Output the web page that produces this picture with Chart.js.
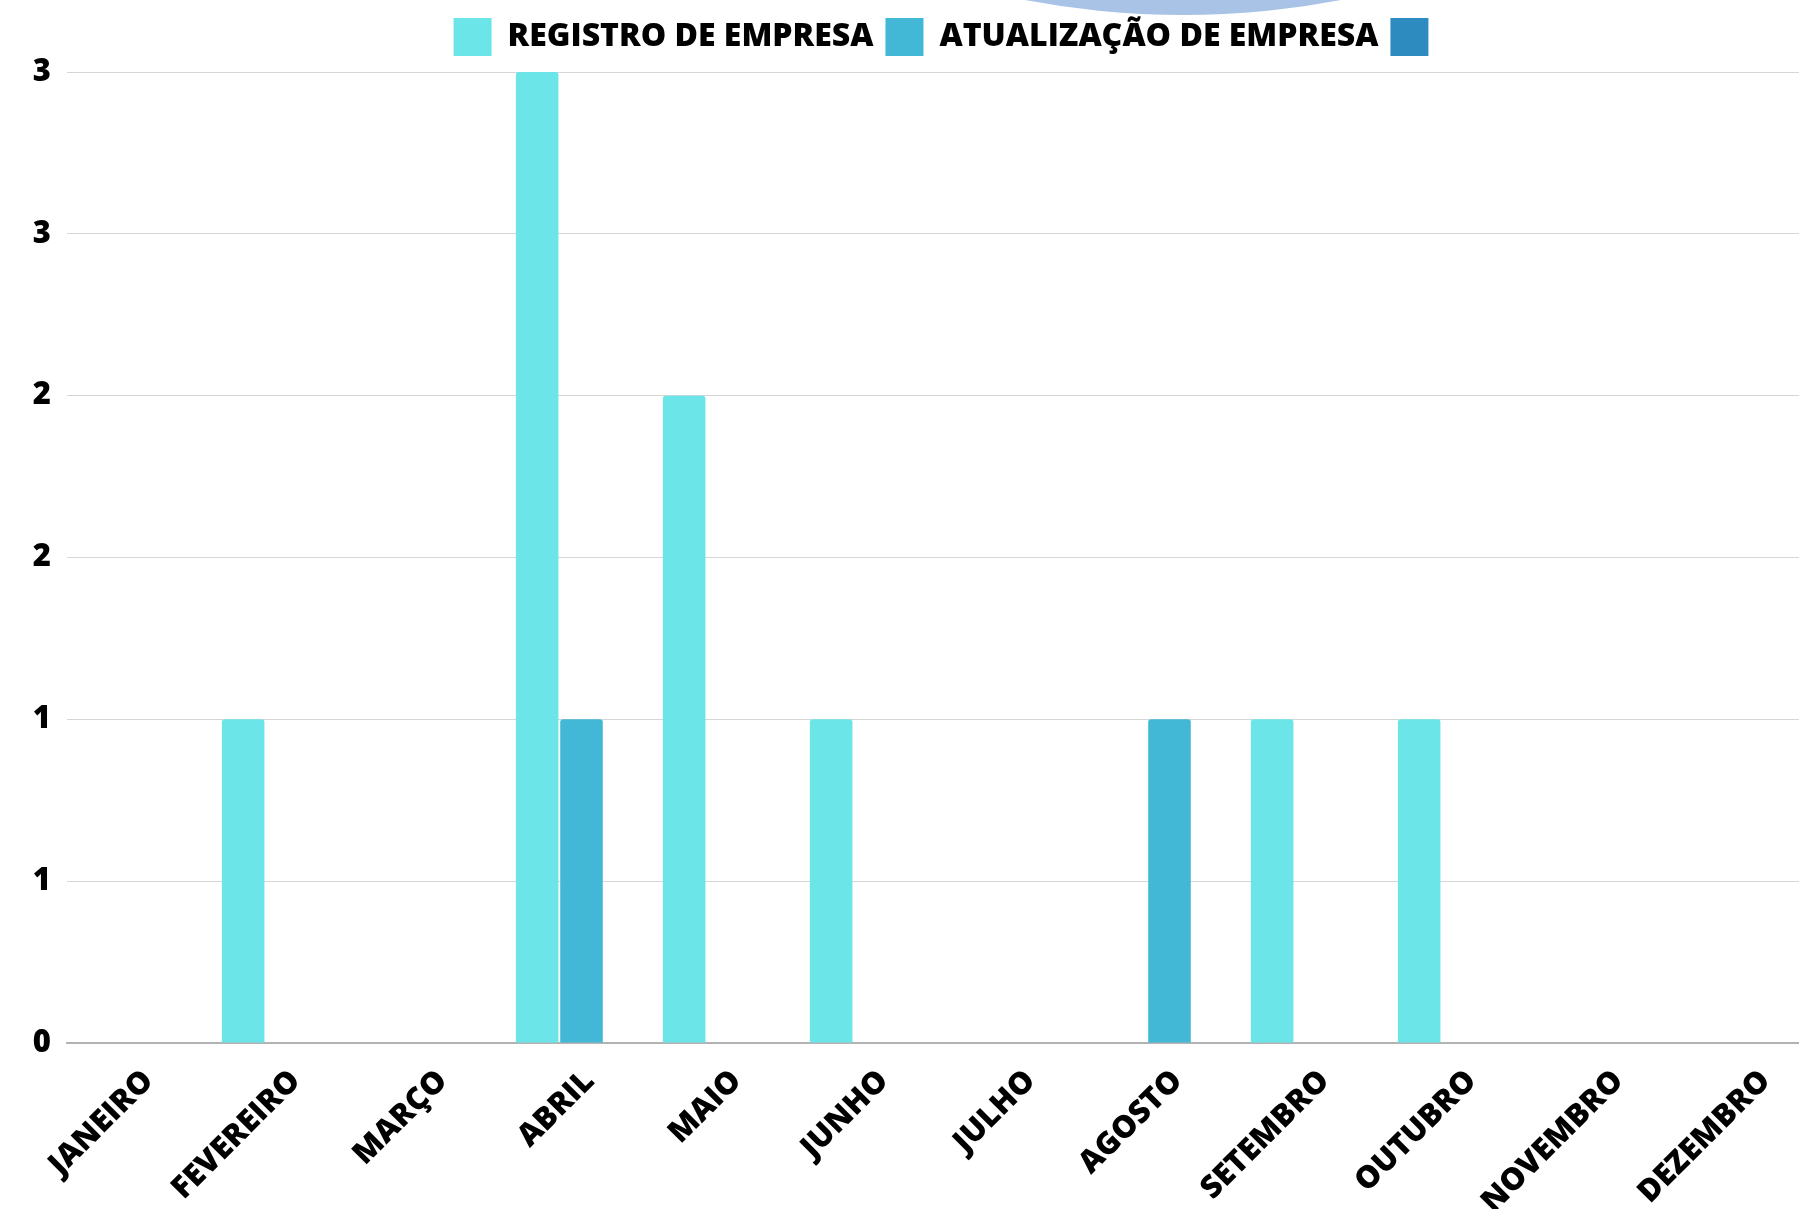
<!DOCTYPE html>
<html lang="pt-BR">
<head>
<meta charset="utf-8">
<title>Empresas por mês</title>
<script src="https://cdn.jsdelivr.net/npm/chart.js@4.4.1/dist/chart.umd.min.js"></script>
<style>
  html, body { margin: 0; padding: 0; background: #fff; overflow: hidden; }
  body { width: 1799px; height: 1209px; position: relative; }
  /* faixa decorativa azul no topo */
  #blob {
    position: absolute;
    left: 343px; top: -1665px;
    width: 1680px; height: 1680px;
    border-radius: 50%;
    background: #a9c3e6;
  }
  #wrap { position: absolute; left: 0; top: 0; }
</style>
</head>
<body>
<div id="blob"></div>
<div id="wrap"><canvas id="chart" width="1831" height="1232"></canvas></div>
<script>
const months = ['JANEIRO', 'FEVEREIRO', 'MARÇO', 'ABRIL', 'MAIO', 'JUNHO',
  'JULHO', 'AGOSTO', 'SETEMBRO', 'OUTUBRO', 'NOVEMBRO', 'DEZEMBRO'];
const registro    = [0, 1, 0, 3, 2, 1, 0, 0, 1, 1, 0, 0];
const atualizacao = [0, 0, 0, 1, 0, 0, 0, 1, 0, 0, 0, 0];
const outros      = [0, 0, 0, 0, 0, 0, 0, 0, 0, 0, 0, 0];
const yTickLabels = ['0', '1', '1', '2', '2', '3', '3'];

const ctx = document.getElementById('chart').getContext('2d');
new Chart(ctx, {
  type: 'bar',
  data: {
    labels: months,
    datasets: [
      { label: 'REGISTRO DE EMPRESA', data: registro, backgroundColor: '#6ce5e8' },
      { label: 'ATUALIZAÇÃO DE EMPRESA', data: atualizacao, backgroundColor: '#42b8d6' },
      { label: '', data: outros, backgroundColor: '#2e8bc0' }
    ]
  },
  options: {
    responsive: false,
    animation: false,
    layout: { padding: { left: 31, top: 6, right: 0, bottom: 0 } },
    datasets: {
      bar: {
        categoryPercentage: 0.905,
        barPercentage: 0.96,
        borderRadius: { topLeft: 3, topRight: 3 },
        borderSkipped: 'start'
      }
    },
    plugins: {
      legend: {
        position: 'top',
        fullSize: false,
        weight: 3000,
        labels: {
          color: '#000',
          boxWidth: 38,
          boxHeight: 38,
          padding: 12,
          font: { family: "'Open Sans'", weight: '800', size: 32 }
        }
      },
      // empty spacer between legend and plot area
      subtitle: {
        display: true,
        text: '',
        padding: 0,
        font: { size: 5 }
      },
      tooltip: { enabled: false }
    },
    scales: {
      x: {
        grid: { display: false },
        border: { color: '#b3b3b3', width: 2 },
        ticks: {
          color: '#000',
          minRotation: 45,
          maxRotation: 45,
          padding: 12,
          labelOffset: 8,
          font: { family: "'Open Sans'", weight: '800', size: 31 }
        },
        afterFit: (scale) => { scale.height = 189; }
      },
      y: {
        min: 0,
        max: 3,
        border: { display: false },
        grid: { color: '#d6d6d6', lineWidth: 1, drawTicks: false },
        ticks: {
          stepSize: 0.5,
          color: '#000',
          padding: 16,
          font: { family: "'Open Sans'", weight: '800', size: 31 },
          callback: (v, i) => yTickLabels[i]
        },
        afterFit: (scale) => { scale.width = 36; }
      }
    }
  }
});
</script>
</body>
</html>
